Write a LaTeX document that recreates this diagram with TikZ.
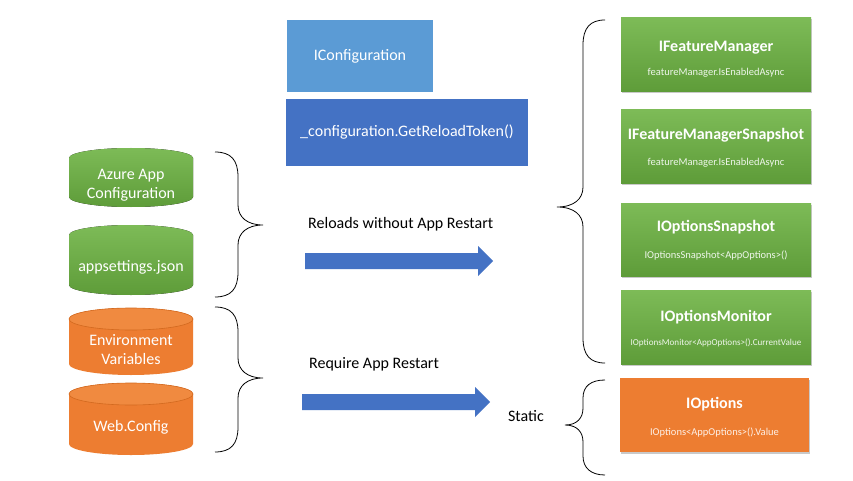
\documentclass[tikz,border=0pt]{standalone}
\usepackage{fontspec}
\setmainfont{Carlito}
\usetikzlibrary{shadows}
\definecolor{gtop}{HTML}{7DBB57}
\definecolor{gbot}{HTML}{5E9C39}
\definecolor{orng}{HTML}{ED7D31}
\definecolor{orlight}{HTML}{F08A40}
\definecolor{ordark}{HTML}{D2691F}
\definecolor{bluel}{HTML}{5B9BD5}
\definecolor{blued}{HTML}{4472C4}
\definecolor{subtext}{HTML}{EEF6EA}
\begin{document}
\begin{tikzpicture}[x=1pt,y=1pt,
  gbox/.style={rectangle, minimum width=190pt, minimum height=74pt, inner sep=0pt,
    top color=gtop, bottom color=gbot,
    drop shadow={shadow xshift=1pt, shadow yshift=-1.5pt, opacity=0.35, fill=black!60}},
  obox/.style={rectangle, minimum width=189pt, minimum height=74pt, inner sep=0pt,
    fill=orng, drop shadow={shadow xshift=1pt, shadow yshift=-1.5pt, opacity=0.35, fill=black!60}},
  btitle/.style={text=white, inner sep=0pt, font=\fontsize{16}{19}\selectfont\bfseries},
  bsub/.style={text=subtext, inner sep=0pt, font=\fontsize{10.5}{12}\selectfont},
  lbl/.style={text=black, inner sep=0pt, font=\fontsize{16}{19}\selectfont},
  ctext/.style={text=white, inner sep=0pt, align=center, font=\fontsize{16}{19}\selectfont},
  brace/.style={draw=black, line width=0.8pt},
  barrow/.style={fill=blued}]
\useasboundingbox (0,0) rectangle (853,480);
\fill[white] (0,0) rectangle (853,480);

% right-hand boxes
\node[gbox] (fm) at (716,425) {};
\node[btitle] (fmt) at (716,432) {IFeatureManager};
\node[bsub] (fms) at (716,407) {featureManager.IsEnabledAsync};

\node[gbox, minimum height=73pt] (fms2) at (716,333.5) {};
\node[btitle] (fmst) at (716,345) {IFeatureManagerSnapshot};
\node[bsub] (fmss) at (716,317) {featureManager.IsEnabledAsync};

\node[gbox, minimum height=73pt] (os) at (716,240.5) {};
\node[btitle] (ost) at (716,253) {IOptionsSnapshot};
\node[bsub] (oss) at (716,224) {IOptionsSnapshot<AppOptions>()};

\node[gbox] (om) at (716,153) {};
\node[btitle] (omt) at (716,163) {IOptionsMonitor};
\node[bsub, font=\fontsize{9.1}{11}\selectfont] (oms) at (716,137) {IOptionsMonitor<AppOptions>().CurrentValue};

\node[obox] (io) at (714.5,65) {};
\node[btitle] (iot) at (714.5,76) {IOptions};
\node[bsub, text=white!88!orng] (ios) at (714.5,47) {IOptions<AppOptions>().Value};

% blue boxes
\node[rectangle, fill=bluel, minimum width=146pt, minimum height=72pt, inner sep=0pt,
  text=white, font=\fontsize{16}{19}\selectfont] (iconf) at (360,424) {IConfiguration};
\node[rectangle, fill=blued, minimum width=242pt, minimum height=67pt, inner sep=0pt,
  text=white, font=\fontsize{16}{19}\selectfont] (token) at (407,347.5) {\_configuration.GetReloadToken()};

% labels
\node[lbl, anchor=west] (reload) at (308,256) {Reloads without App Restart};
\node[lbl, anchor=west] (restart) at (309,116) {Require App Restart};
\node[lbl] (static) at (526,64) {Static};

% block arrows
\fill[barrow] (305,227) -- (478,227) -- (478,234) -- (493,219) -- (478,204) -- (478,211) -- (305,211) -- cycle;
\fill[barrow] (302,86) -- (475,86) -- (475,93) -- (490,78) -- (475,63) -- (475,70) -- (302,70) -- cycle;

% cylinders (left)
% Azure App Configuration
\fill[top color=gtop, bottom color=gbot] (69,322) -- (69,283) arc[start angle=180, end angle=360, x radius=62, y radius=10] -- (193,322) arc[start angle=0, end angle=180, x radius=62, y radius=10] -- cycle;
\node[ctext] (azure) at (131,295) {Azure App\\Configuration};
% appsettings.json
\fill[top color=gtop, bottom color=gbot] (69,245) -- (69,195) arc[start angle=180, end angle=360, x radius=62, y radius=10] -- (193,245) arc[start angle=0, end angle=180, x radius=62, y radius=10] -- cycle;
\node[ctext] (appset) at (131,213) {appsettings.json};
% Environment Variables
\fill[orng] (69,161) -- (69,116) arc[start angle=180, end angle=360, x radius=62, y radius=11] -- (193,161) arc[start angle=0, end angle=180, x radius=62, y radius=11] -- cycle;
\filldraw[fill=orlight, draw=ordark, line width=0.6pt] (131,161) ellipse[x radius=62, y radius=11];
\node[ctext] (env) at (131,130) {Environment\\Variables};
% Web.Config
\fill[orng] (69,86) -- (69,36) arc[start angle=180, end angle=360, x radius=62, y radius=11] -- (193,86) arc[start angle=0, end angle=180, x radius=62, y radius=11] -- cycle;
\filldraw[fill=orlight, draw=ordark, line width=0.6pt] (131,86) ellipse[x radius=62, y radius=11];
\node[ctext] (web) at (131,53) {Web.Config};

% braces
\draw[brace] (215,328) .. controls (231,328) and (238,320) .. (238,303) -- (238,275) .. controls (238,263) and (247,255) .. (263,255) .. controls (247,255) and (238,247) .. (238,235) -- (238,208) .. controls (238,191) and (231,183) .. (215,183);
\draw[brace] (215,173) .. controls (231,173) and (238,165) .. (238,148) -- (238,122) .. controls (238,110) and (247,102) .. (263,102) .. controls (247,102) and (238,94) .. (238,82) -- (238,53) .. controls (238,36) and (231,28) .. (215,28);
\draw[brace] (605,460) .. controls (590,460) and (583,452) .. (583,435) -- (583,293) .. controls (583,281) and (574,273) .. (557,273) .. controls (574,273) and (583,265) .. (583,253) -- (583,142) .. controls (583,125) and (590,117) .. (605,117);
\draw[brace] (605,100) .. controls (591,100) and (583,94) .. (583,82) -- (583,72) .. controls (583,62) and (577,55) .. (565,55) .. controls (577,55) and (583,48) .. (583,38) -- (583,24) .. controls (583,12) and (591,5) .. (605,5);
\end{tikzpicture}
\end{document}
